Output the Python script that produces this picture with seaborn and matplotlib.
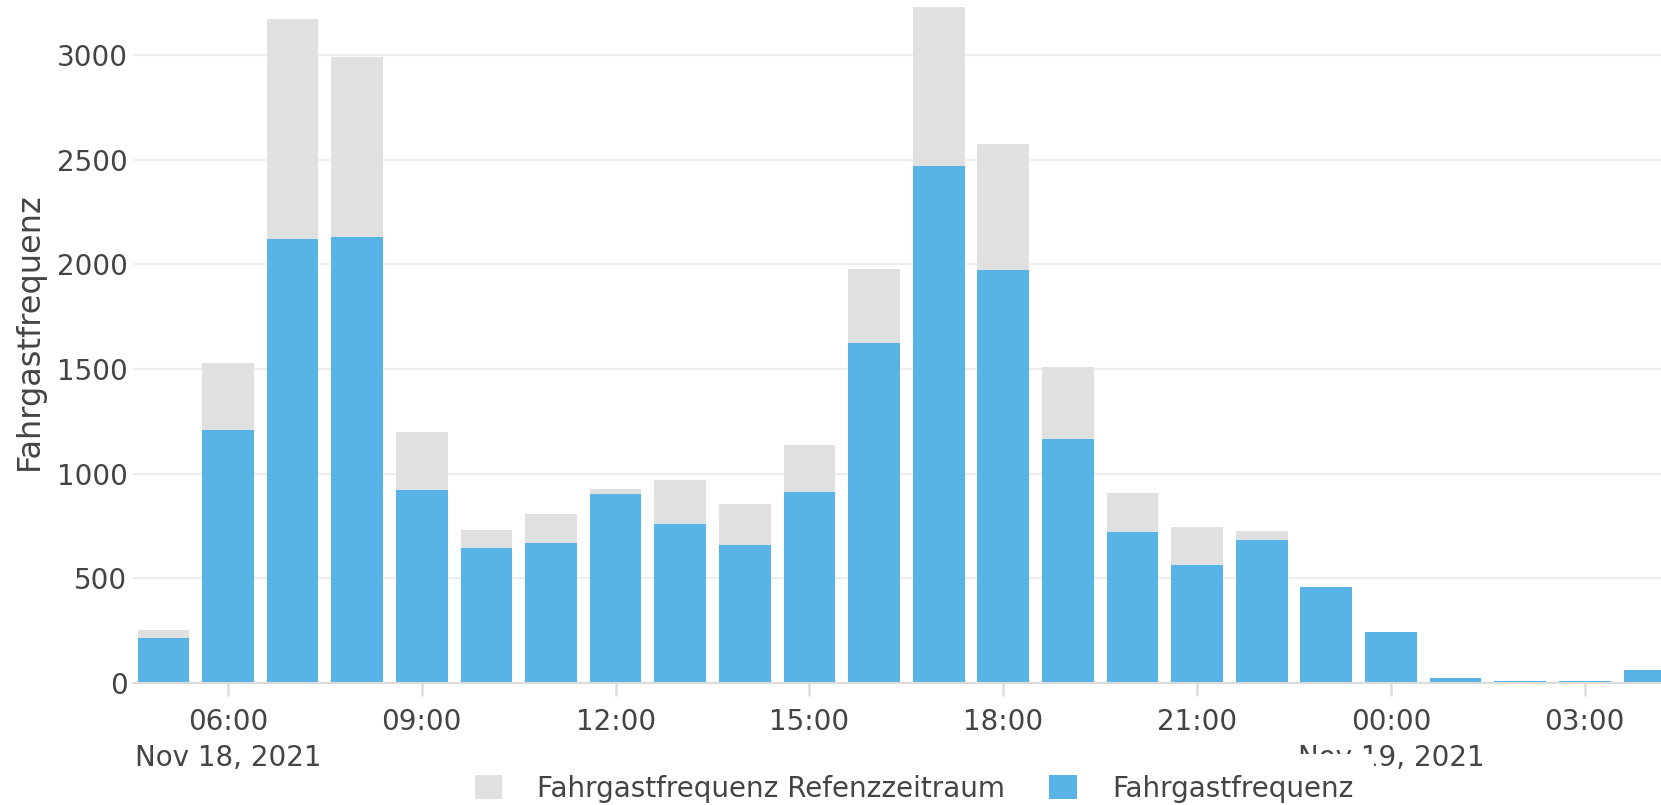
import numpy as np
import pandas as pd
import matplotlib
matplotlib.use("Agg")
import matplotlib.pyplot as plt
import matplotlib.dates as mdates
import matplotlib.transforms as mtransforms
from matplotlib.patches import Patch
import seaborn as sns

# hourly bins, Nov 18 05:00 -> Nov 19 04:00
stunden = pd.date_range("2021-11-18 05:00", periods=24, freq="h")

# Fahrgastfrequenz (current day)
fahrgast = [213, 1211, 2123, 2133, 922, 645, 670, 901, 760, 660, 912, 1625,
            2468, 1973, 1166, 722, 566, 684, 457, 245, 24, 10, 10, 62]
# Fahrgastfrequenz Referenzzeitraum (drawn behind)
referenz = [254, 1527, 3171, 2990, 1200, 730, 807, 927, 969, 854, 1136, 1980,
            3229, 2577, 1510, 908, 743, 726, 430, 230, 18, 8, 8, 55]

legend_labels = ["Fahrgastfrequenz Refenzzeitraum", "Fahrgastfrequenz"]
date_labels = [("2021-11-18 06:00", "Nov 18, 2021"), ("2021-11-19 00:00", "Nov 19, 2021")]

grey = "#e0e0e0"
blue = "#58b3e6"
text_col = "#444444"

sns.set_theme(style="white")
plt.rcParams["font.family"] = ["DejaVu Sans"]

df = pd.DataFrame({
    "zeit": mdates.date2num(stunden.to_pydatetime()),
    "referenz": referenz,
    "fahrgast": fahrgast,
})

W, H = 1661, 805
fig = plt.figure(figsize=(W / 100, H / 100), dpi=100)
ax = fig.add_axes([133 / W, 1 - 683 / H, (W - 133) / W, 683 / H])

sns.barplot(data=df, x="zeit", y="referenz", native_scale=True, orient="x",
            color=grey, saturation=1, width=0.8, linewidth=0, errorbar=None, ax=ax)
sns.barplot(data=df, x="zeit", y="fahrgast", native_scale=True, orient="x",
            color=blue, saturation=1, width=0.8, linewidth=0, errorbar=None, ax=ax)

# axis ranges (plot is cropped on the right and top like the screenshot)
t6 = mdates.date2num(pd.Timestamp("2021-11-18 06:00").to_pydatetime())
ax.set_xlim(t6 - 1.47 / 24, t6 + 22.18 / 24)
ax.set_ylim(0, 3263)

ax.set_yticks(np.arange(0, 3001, 500))
ax.yaxis.grid(True, color="#eeeeee", linewidth=1.6)
ax.xaxis.grid(False)
ax.set_axisbelow(True)

ax.xaxis.set_major_locator(mdates.HourLocator(byhour=range(0, 24, 3)))
ax.xaxis.set_major_formatter(mdates.DateFormatter("%H:%M"))

ax.tick_params(axis="y", length=0, pad=4, labelsize=20, labelcolor=text_col)
ax.tick_params(axis="x", length=9, width=1.8, color="#dddddd", pad=9,
               labelsize=20, labelcolor=text_col, bottom=True)

for side in ["top", "right", "left"]:
    ax.spines[side].set_visible(False)
ax.spines["bottom"].set_color("#dcdcdc")
ax.spines["bottom"].set_linewidth(1.5)

ax.set_xlabel("")
ax.set_ylabel("Fahrgastfrequenz", fontsize=23, color=text_col)
ax.yaxis.set_label_coords((45 - 133) / (W - 133), (683 - 331) / 683)

# date sub-labels under the first tick and day change
trans = mtransforms.blended_transform_factory(ax.transData, fig.transFigure)
for ts, txt in date_labels:
    xd = mdates.date2num(pd.Timestamp(ts).to_pydatetime())
    ax.text(xd, 1 - 758 / H, txt, transform=trans, ha="center", va="center",
            fontsize=20, color=text_col, clip_on=False)

# legend box is opaque and sits over part of the second date label
handles = [Patch(facecolor=grey, edgecolor="none"), Patch(facecolor=blue, edgecolor="none")]
leg = fig.legend(handles, legend_labels, loc="center", bbox_to_anchor=(914 / W, 1 - 789 / H),
                 ncol=2, frameon=True, fontsize=20, handlelength=1.0, handleheight=0.95,
                 handletextpad=1.26, columnspacing=1.58, borderpad=0.75,
                 fancybox=False, framealpha=1, edgecolor="none", facecolor="white")
for t in leg.get_texts():
    t.set_color(text_col)

fig.savefig("out.png", dpi=100, facecolor="white")
